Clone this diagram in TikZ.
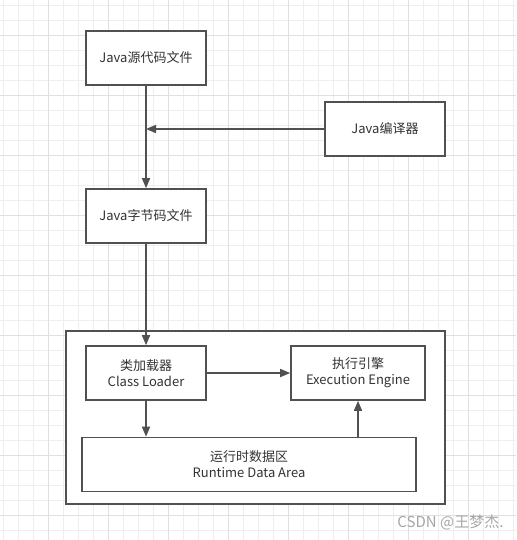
\documentclass[tikz,border=0pt]{standalone}
\usepackage{fontspec}
\setmainfont{Noto Sans CJK SC}
\usetikzlibrary{arrows.meta}
\definecolor{edge}{HTML}{4F5153}
\definecolor{txt}{HTML}{333333}
\definecolor{gmin}{HTML}{EEEEEE}
\definecolor{gmaj}{HTML}{E0E0E0}
\tikzset{
  box/.style={draw=edge, line width=1.6pt, fill=white, minimum width=#1, minimum height=54pt, inner sep=0pt, text=txt, font=\fontsize{13}{16}\selectfont, align=center},
  box/.default=120pt,
  conn/.style={draw=edge, line width=1.6pt, -{Triangle[length=10pt,width=8pt]}},
}
\begin{document}
\begin{tikzpicture}[x=1pt,y=-1pt]
\useasboundingbox (0,0) rectangle (516,540);
\fill[white] (0,0) rectangle (516,540);
\foreach \i in {0,...,34} {\draw[gmin, line width=0.8pt] (3+15*\i,0) -- (3+15*\i,540);}
\foreach \i in {0,...,35} {\draw[gmin, line width=0.8pt] (0,5+15*\i) -- (516,5+15*\i);}
\foreach \i in {0,...,8} {\draw[gmaj, line width=0.9pt] (48+60*\i-60,0) -- (48+60*\i-60,540);}
\foreach \i in {0,...,9} {\draw[gmaj, line width=0.9pt] (0,35+60*\i-60) -- (516,35+60*\i-60);}

\node[box] (src) at (146,58) {Java源代码文件};
\node[box] (cmp) at (385,129) {Java编译器};
\node[box] (byte) at (146,216) {Java字节码文件};
\coordinate (j) at (146,129);

\draw[draw=edge, line width=1.6pt, fill=white] (66,331) rectangle (445,504);
\node[box] (cl) at (146,373) {类加载器\\Class Loader};
\node[box=134pt] (ee) at (358,373) {执行引擎\\Execution Engine};
\node[box=334pt] (rt) at (249,464.5) {运行时数据区\\Runtime Data Area};

\draw[conn] (src.south) -- (byte.north);
\draw[conn] (cmp.west) -- (j);
\draw[conn] (byte.south) -- (cl.north);
\draw[conn] (cl.east) -- (ee.west);
\draw[conn] (cl.south) -- (rt.north -| cl.south);
\draw[conn] (rt.north -| ee.south) -- (ee.south);

\node[text=black!35, font=\fontsize{15}{18}\selectfont, anchor=east] (wm) at (507,522) {CSDN @王梦杰.};
\end{tikzpicture}
\end{document}
